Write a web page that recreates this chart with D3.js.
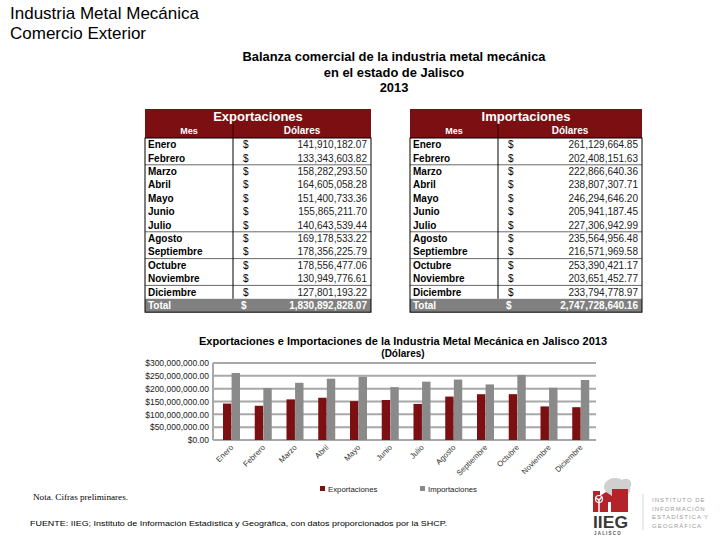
<!DOCTYPE html>
<html><head><meta charset="utf-8">
<script src="https://cdn.jsdelivr.net/npm/d3@7"></script>
<style>body{margin:0;background:#fff}svg{display:block;font-family:"Liberation Sans",Arial,sans-serif}</style>
</head><body><svg id="c" width="720" height="540"></svg>
<script>
const months = ["Enero","Febrero","Marzo","Abril","Mayo","Junio","Julio","Agosto","Septiembre","Octubre","Noviembre","Diciembre"];
const exportaciones = [141910182.07,133343603.82,158282293.50,164605058.28,151400733.36,155865211.70,140643539.44,169178533.22,178356225.79,178556477.06,130949776.61,127801193.22];
const importaciones = [261129664.85,202408151.63,222866640.36,238807307.71,246294646.20,205941187.45,227306942.99,235564956.48,216571969.58,253390421.17,203651452.77,233794778.97];
const totales = {Exportaciones: 1830892828.07, Importaciones: 2747728640.16};
const series = ["Exportaciones","Importaciones"];
const yTicks = [0,50e6,100e6,150e6,200e6,250e6,300e6];

const svg = d3.select("#c");
svg.append("rect").attr("width",720).attr("height",540).attr("fill","#fff");
const RED = "#7b0f12", GRAY = "#8a8a8a";
const fmt = d3.format(",.2f");

// header
svg.append("text").attr("x",10).attr("y",19).attr("font-size",17).text("Industria Metal Mecánica");
svg.append("text").attr("x",10).attr("y",39).attr("font-size",17).text("Comercio Exterior");

// top title
["Balanza comercial de la industria metal mecánica","en el estado de Jalisco","2013"].forEach((t,i)=>{
  svg.append("text").attr("x",394).attr("y",61+i*15.5).attr("text-anchor","middle")
    .attr("font-size",12.9).attr("font-weight","bold").text(t);
});

// tables
function table(x0,x1,xd,title,vals,total){
  const g = svg.append("g");
  const top = 109, hdrH = 14.5, rowH = 13.4, bodyTop = 138;
  g.append("rect").attr("x",x0).attr("y",top).attr("width",x1-x0).attr("height",bodyTop-top).attr("fill",RED);
  g.append("text").attr("x",(x0+x1)/2).attr("y",top+11.5).attr("text-anchor","middle").attr("fill","#fff")
    .attr("font-size",13).attr("font-weight","bold").text(title);
  g.append("text").attr("x",(x0+xd)/2).attr("y",top+hdrH+10.5).attr("text-anchor","middle").attr("fill","#fff")
    .attr("font-size",9).attr("font-weight","bold").text("Mes");
  g.append("text").attr("x",(xd+x1)/2).attr("y",top+hdrH+10.5).attr("text-anchor","middle").attr("fill","#fff")
    .attr("font-size",10).attr("font-weight","bold").text("Dólares");
  g.append("line").attr("x1",xd).attr("x2",xd).attr("y1",top+hdrH).attr("y2",bodyTop).attr("stroke","#3a0000").attr("stroke-width",1);
  vals.forEach((v,i)=>{
    const y = bodyTop + i*rowH;
    g.append("text").attr("x",x0+3).attr("y",y+10.2).attr("font-size",10).attr("font-weight","bold").text(months[i]);
    g.append("text").attr("x",xd+10).attr("y",y+10.2).attr("font-size",10).text("$");
    g.append("text").attr("x",x1-4).attr("y",y+10.2).attr("text-anchor","end").attr("font-size",10).attr("fill","#222").text(fmt(v));
  });
  const ty = bodyTop + 12*rowH;
  g.append("rect").attr("x",x0).attr("y",ty).attr("width",x1-x0).attr("height",rowH).attr("fill","#808080");
  g.append("text").attr("x",x0+3).attr("y",ty+10.2).attr("font-size",10).attr("font-weight","bold").attr("fill","#fff").text("Total");
  g.append("text").attr("x",xd+8).attr("y",ty+10.2).attr("font-size",10).attr("font-weight","bold").attr("fill","#fff").text("$");
  g.append("text").attr("x",x1-4).attr("y",ty+10.2).attr("text-anchor","end").attr("font-size",10).attr("font-weight","bold").attr("fill","#fff").text(fmt(total));
  [2,7,9,11].forEach(i=>{
    g.append("line").attr("x1",x0).attr("x2",x1).attr("y1",bodyTop+i*rowH).attr("y2",bodyTop+i*rowH).attr("stroke","#000").attr("stroke-width",0.6);
  });
  g.append("line").attr("x1",xd).attr("x2",xd).attr("y1",bodyTop).attr("y2",ty).attr("stroke","#000").attr("stroke-width",1);
  g.append("rect").attr("x",x0).attr("y",bodyTop).attr("width",x1-x0).attr("height",ty+rowH-bodyTop)
    .attr("fill","none").attr("stroke","#000").attr("stroke-width",1);
}
table(145,371,233,"Exportaciones",exportaciones,totales.Exportaciones);
table(410,642,498,"Importaciones",importaciones,totales.Importaciones);

// chart title
svg.append("text").attr("x",403).attr("y",345).attr("text-anchor","middle").attr("font-size",10)
  .attr("font-weight","bold").attr("textLength",408).attr("lengthAdjust","spacingAndGlyphs")
  .text("Exportaciones e Importaciones de la Industria Metal Mecánica en Jalisco 2013");
svg.append("text").attr("x",403).attr("y",357).attr("text-anchor","middle").attr("font-size",10)
  .attr("font-weight","bold").text("(Dólares)");

// chart
const x0 = d3.scaleBand().domain(months).range([214,595]).paddingInner(0);
const x1 = d3.scaleBand().domain(series).range([9,26]).paddingInner(0.02);
const y = d3.scaleLinear().domain([0,300e6]).range([440,363]);
const color = d3.scaleOrdinal().domain(series).range([RED,GRAY]);

const grid = svg.append("g");
yTicks.forEach(t=>{
  grid.append("line").attr("x1",213).attr("x2",596).attr("y1",y(t)).attr("y2",y(t))
    .attr("stroke","#a8a8a8").attr("stroke-width",2);
});
grid.append("line").attr("x1",213).attr("x2",213).attr("y1",y(300e6)).attr("y2",y(0)).attr("stroke","#a8a8a8").attr("stroke-width",2);

const yAxis = svg.append("g").attr("transform","translate(213,0)")
  .call(d3.axisLeft(y).tickValues(yTicks).tickSize(0).tickPadding(4).tickFormat(d=>"$"+fmt(d)));
yAxis.select(".domain").remove();
yAxis.selectAll("text").attr("font-size",8.5).attr("fill","#222").attr("font-family","Liberation Sans, Arial");

const groups = svg.append("g").selectAll("g").data(months).join("g")
  .attr("transform",d=>`translate(${x0(d)},0)`);
groups.selectAll("rect").data((d,i)=>series.map(s=>({s, v: s==="Exportaciones"?exportaciones[i]:importaciones[i]})))
  .join("rect").attr("x",d=>x1(d.s)).attr("width",x1.bandwidth()).attr("y",d=>y(d.v))
  .attr("height",d=>y(0)-y(d.v)).attr("fill",d=>color(d.s));

const xAxis = svg.append("g").attr("transform","translate(0,440)")
  .call(d3.axisBottom(x0).tickSize(0).tickPadding(0));
xAxis.select(".domain").remove();
xAxis.selectAll(".tick text").attr("font-size",7.8).attr("fill","#333").attr("font-family","Liberation Sans, Arial")
  .attr("text-anchor","end").attr("dy",0).attr("transform","translate(4,8) rotate(-45)");

// legend
series.forEach((s,i)=>{
  const lx = 320 + i*100;
  svg.append("rect").attr("x",lx).attr("y",486).attr("width",5).attr("height",5).attr("fill",color(s));
  svg.append("text").attr("x",lx+8).attr("y",492).attr("font-size",7.8).attr("fill","#222").text(s);
});

// footer
svg.append("text").attr("x",33).attr("y",500).attr("font-size",7.5).attr("font-family","Liberation Serif, serif")
  .attr("textLength",95).attr("lengthAdjust","spacingAndGlyphs").text("Nota. Cifras preliminares.");
svg.append("text").attr("x",30).attr("y",526).attr("font-size",7.5).attr("textLength",417).attr("lengthAdjust","spacingAndGlyphs")
  .text("FUENTE: IIEG; Instituto de Información Estadística y Geográfica, con datos proporcionados por la SHCP.");

// logo
const lg = svg.append("g");
lg.append("path").attr("d","M604,486 C606,478 616,476 622,480 C628,476 634,482 630,488 C632,494 624,498 618,494 C612,498 604,494 604,486Z").attr("fill","#d0d0d0");
lg.append("path").attr("d","M593,491 L600,491 L600,496 L606,492 L612,496 L612,489 L628,489 L628,512 L593,512Z").attr("fill","#b3242a");
lg.append("path").attr("d","M599,512 L599,500 M596,498 L599,500 L602,497").attr("stroke","#fff").attr("stroke-width",1.5).attr("fill","none");
lg.append("circle").attr("cx",599).attr("cy",499).attr("r",3.5).attr("fill","none").attr("stroke","#fff").attr("stroke-width",1.2);
lg.append("rect").attr("x",608).attr("y",502).attr("width",3).attr("height",10).attr("fill","#fff");
lg.append("text").attr("x",593).attr("y",528).attr("font-size",16).attr("font-weight","bold").attr("fill","#3a3a3a").attr("textLength",35).attr("lengthAdjust","spacingAndGlyphs").text("IIEG");
lg.append("text").attr("x",594).attr("y",535).attr("font-size",4.5).attr("font-weight","bold").attr("fill","#555").attr("letter-spacing",1.2).text("JALISCO");
lg.append("line").attr("x1",643).attr("x2",643).attr("y1",494).attr("y2",530).attr("stroke","#ccc").attr("stroke-width",0.8);
["INSTITUTO  DE","INFORMACIÓN","ESTADÍSTICA  Y","GEOGRÁFICA"].forEach((t,i)=>{
  lg.append("text").attr("x",652).attr("y",502+i*8.7).attr("font-size",6).attr("fill","#9a9a9a").attr("letter-spacing",1).text(t);
});
</script></body></html>
